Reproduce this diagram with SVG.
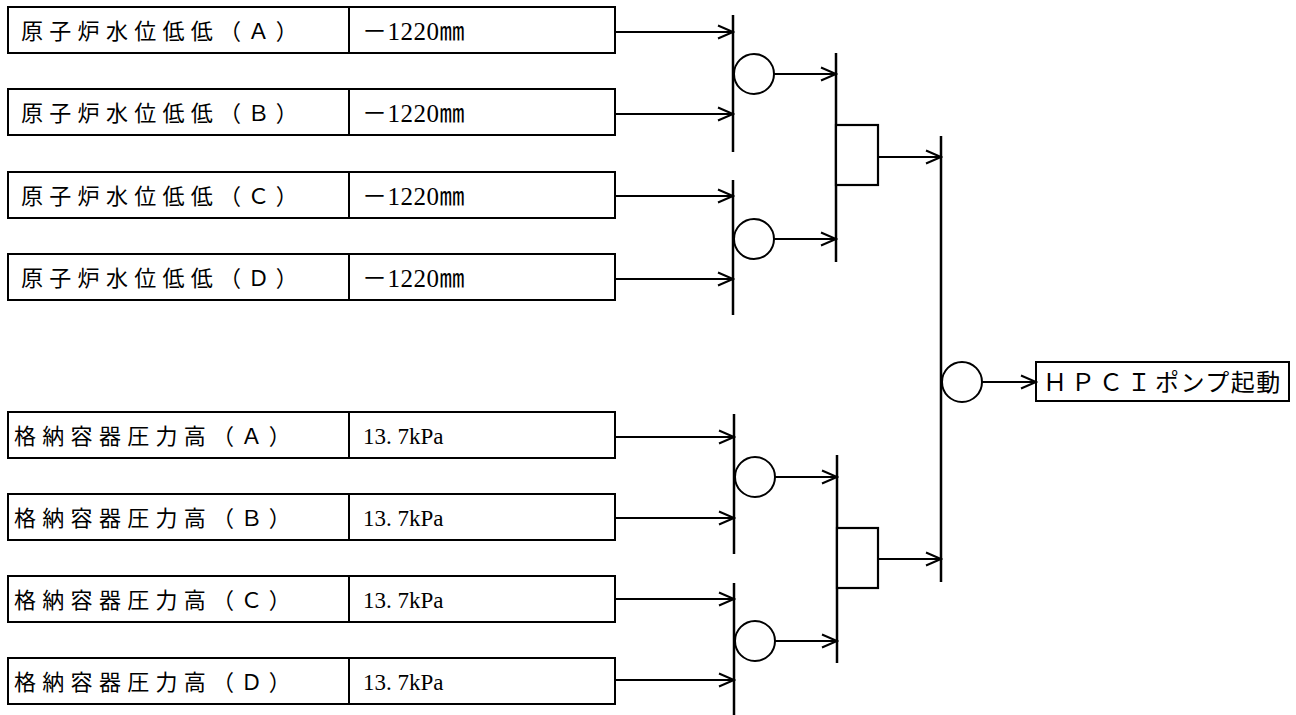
<svg xmlns="http://www.w3.org/2000/svg" width="1296" height="715" viewBox="0 0 1296 715">
<style>
.box{fill:#fff;stroke:#000;stroke-width:2}
.div{stroke:#000;stroke-width:2}
.lbl{font-family:"Noto Sans CJK JP","Noto Sans",sans-serif;font-size:22px;letter-spacing:6.3px;fill:#000}
.val{font-family:"Liberation Serif","Noto Sans CJK JP",serif;font-size:23px;fill:#000}
.mm{font-family:"Liberation Serif","Noto Sans CJK JP",serif;font-size:25px;fill:#000;letter-spacing:0.5px}
.bar{stroke:#000;stroke-width:2.5;fill:none}
.ln{stroke:#000;stroke-width:2;fill:none}
.or{fill:#fff;stroke:#000;stroke-width:2}
.and{fill:#fff;stroke:#000;stroke-width:2.2}
.out{font-family:"Liberation Serif","Noto Sans CJK JP",serif;font-size:24px;fill:#000}
</style>
<defs>
<marker id="ah" markerUnits="userSpaceOnUse" markerWidth="18" markerHeight="16" refX="16" refY="8" orient="auto">
<path d="M1,1.5 L16,8 L1,14.5" fill="none" stroke="#000" stroke-width="2"/>
</marker>
</defs>
<rect width="1296" height="715" fill="#fff"/>

<g id="in-rpv-a"><rect class="box" x="8" y="7" width="607" height="46"/><line class="div" x1="349" y1="7" x2="349" y2="53"/><text class="lbl" x="21" y="39">原子炉水位低低（Ａ）</text><text class="mm" x="362" y="40">－1220㎜</text></g>
<g id="in-rpv-b"><rect class="box" x="8" y="89" width="607" height="46"/><line class="div" x1="349" y1="89" x2="349" y2="135"/><text class="lbl" x="21" y="121">原子炉水位低低（Ｂ）</text><text class="mm" x="362" y="122">－1220㎜</text></g>
<g id="in-rpv-c"><rect class="box" x="8" y="172" width="607" height="46"/><line class="div" x1="349" y1="172" x2="349" y2="218"/><text class="lbl" x="21" y="204">原子炉水位低低（Ｃ）</text><text class="mm" x="362" y="205">－1220㎜</text></g>
<g id="in-rpv-d"><rect class="box" x="8" y="254" width="607" height="46"/><line class="div" x1="349" y1="254" x2="349" y2="300"/><text class="lbl" x="21" y="286">原子炉水位低低（Ｄ）</text><text class="mm" x="362" y="287">－1220㎜</text></g>

<g id="in-pcv-a"><rect class="box" x="8" y="412" width="607" height="46"/><line class="div" x1="349" y1="412" x2="349" y2="458"/><text class="lbl" x="14" y="444">格納容器圧力高（Ａ）</text><text class="val" x="363" y="444">13. 7kPa</text></g>
<g id="in-pcv-b"><rect class="box" x="8" y="494" width="607" height="46"/><line class="div" x1="349" y1="494" x2="349" y2="540"/><text class="lbl" x="14" y="526">格納容器圧力高（Ｂ）</text><text class="val" x="363" y="526">13. 7kPa</text></g>
<g id="in-pcv-c"><rect class="box" x="8" y="576" width="607" height="46"/><line class="div" x1="349" y1="576" x2="349" y2="622"/><text class="lbl" x="14" y="608">格納容器圧力高（Ｃ）</text><text class="val" x="363" y="608">13. 7kPa</text></g>
<g id="in-pcv-d"><rect class="box" x="8" y="658" width="607" height="46"/><line class="div" x1="349" y1="658" x2="349" y2="704"/><text class="lbl" x="14" y="690">格納容器圧力高（Ｄ）</text><text class="val" x="363" y="690">13. 7kPa</text></g>

<g id="or1"><line class="bar" x1="733" y1="15" x2="733" y2="152"/><circle class="or" cx="754" cy="74" r="20"/></g>
<g id="or2"><line class="bar" x1="733" y1="180" x2="733" y2="315"/><circle class="or" cx="754" cy="239" r="20"/></g>
<g id="and1"><line class="bar" x1="836" y1="53" x2="836" y2="262"/><rect class="and" x="836" y="125" width="42" height="60"/></g>
<g id="or3"><line class="bar" x1="734" y1="414" x2="734" y2="554"/><circle class="or" cx="755" cy="477" r="20"/></g>
<g id="or4"><line class="bar" x1="734" y1="583" x2="734" y2="715"/><circle class="or" cx="755" cy="641" r="20"/></g>
<g id="and2"><line class="bar" x1="837" y1="455" x2="837" y2="663"/><rect class="and" x="837" y="528" width="41" height="60"/></g>
<g id="or5"><line class="bar" x1="941" y1="136" x2="941" y2="582"/><circle class="or" cx="962" cy="382" r="20"/></g>
<g id="out"><rect class="box" x="1036" y="362" width="253" height="39"/><text class="out" y="391"><tspan x="1043" letter-spacing="4">ＨＰＣＩ</tspan><tspan letter-spacing="1.5">ポンプ起動</tspan></text></g>

<g id="connectors">
<line class="ln" x1="615" y1="32" x2="733" y2="32" marker-end="url(#ah)"/>
<line class="ln" x1="615" y1="114" x2="733" y2="114" marker-end="url(#ah)"/>
<line class="ln" x1="615" y1="196" x2="733" y2="196" marker-end="url(#ah)"/>
<line class="ln" x1="615" y1="279" x2="733" y2="279" marker-end="url(#ah)"/>
<line class="ln" x1="615" y1="437" x2="734" y2="437" marker-end="url(#ah)"/>
<line class="ln" x1="615" y1="518" x2="734" y2="518" marker-end="url(#ah)"/>
<line class="ln" x1="615" y1="599" x2="734" y2="599" marker-end="url(#ah)"/>
<line class="ln" x1="615" y1="680" x2="734" y2="680" marker-end="url(#ah)"/>
<line class="ln" x1="774" y1="74" x2="836" y2="74" marker-end="url(#ah)"/>
<line class="ln" x1="774" y1="239" x2="836" y2="239" marker-end="url(#ah)"/>
<line class="ln" x1="775" y1="477" x2="837" y2="477" marker-end="url(#ah)"/>
<line class="ln" x1="775" y1="641" x2="837" y2="641" marker-end="url(#ah)"/>
<line class="ln" x1="878" y1="157" x2="941" y2="157" marker-end="url(#ah)"/>
<line class="ln" x1="878" y1="559" x2="941" y2="559" marker-end="url(#ah)"/>
<line class="ln" x1="982" y1="382" x2="1036" y2="382" marker-end="url(#ah)"/>
</g>
</svg>
